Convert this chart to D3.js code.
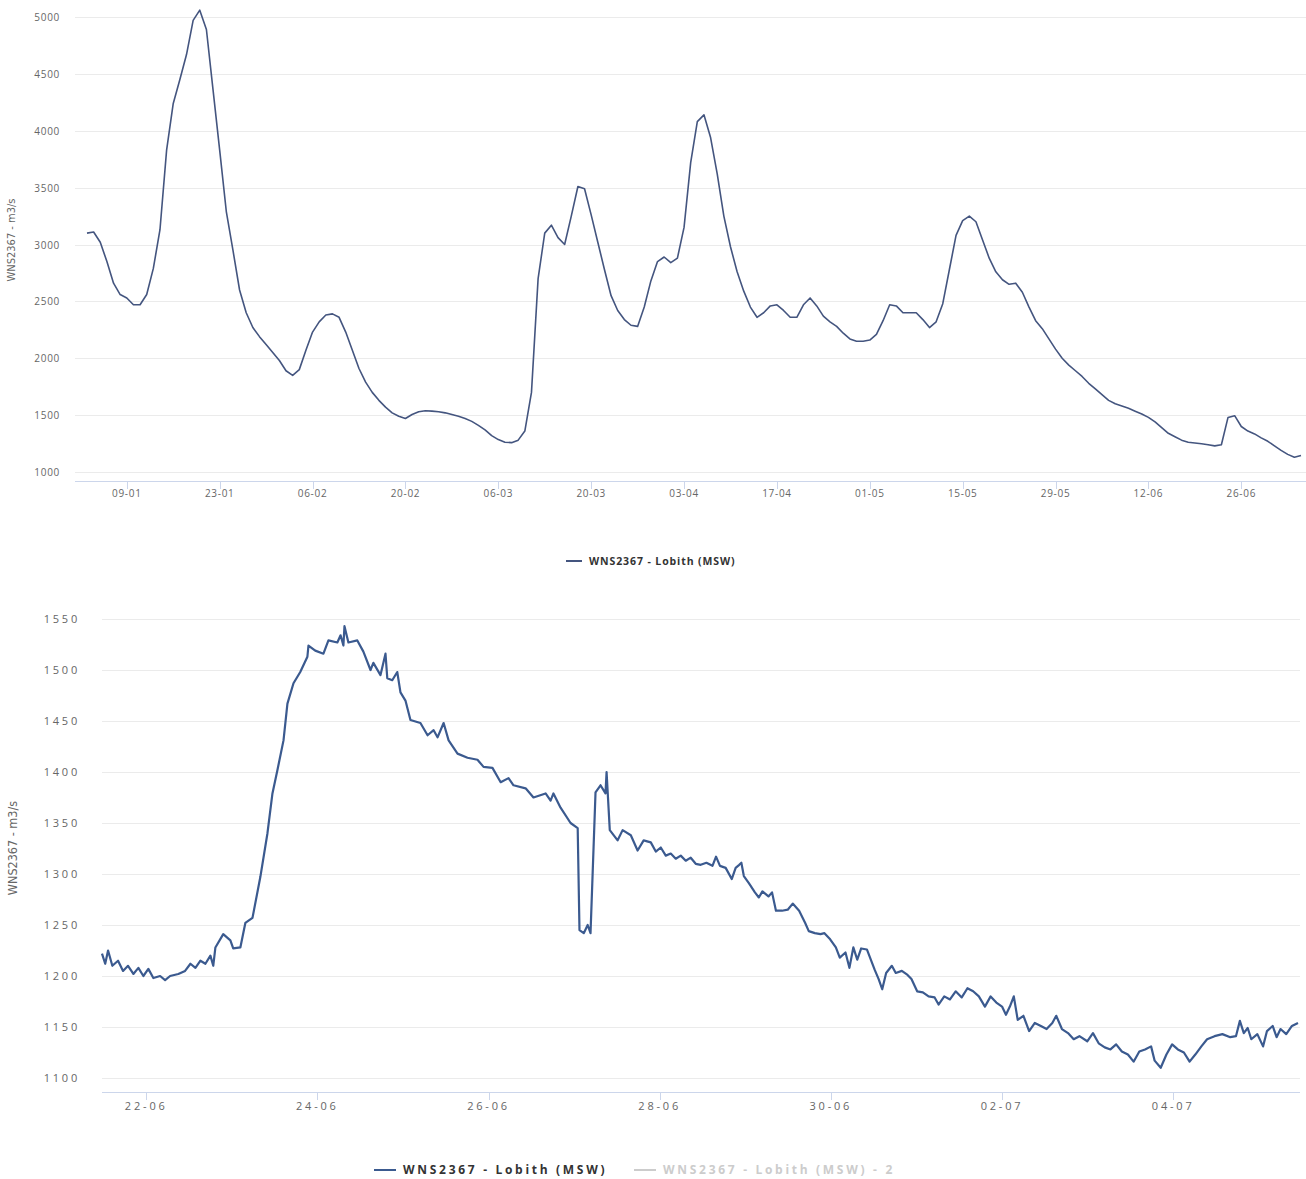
<!DOCTYPE html>
<html>
<head>
<meta charset="utf-8">
<script src="https://cdn.jsdelivr.net/npm/d3@7"></script>
<style>
body { margin: 0; background: #fff; }
svg { display: block; font-family: "Open Sans", "DejaVu Sans", sans-serif; }
.grid line { stroke: #ebebeb; stroke-width: 1; }
.axisline { stroke: #ccd6eb; stroke-width: 1; }
.tick-mark { stroke: #ccd6eb; stroke-width: 1; }
.lbl { fill: #666; }
.ytitle { fill: #666; font-family: "Liberation Sans Narrow", "DejaVu Sans Condensed", sans-serif; }
.legend { font-weight: bold; fill: #333; }
</style>
</head>
<body>
<svg id="chart" width="1306" height="1179"></svg>
<script>
// ---- top chart: daily discharge Lobith ----
var topStart = "2023-01-03";
var topValues = [
  3100, 3110, 3020, 2850, 2660, 2560, 2530, 2470, 2470, 2560,
  2790, 3130, 3830, 4240, 4450, 4670, 4970, 5060, 4890, 4360,
  3830, 3290, 2950, 2600, 2400, 2270, 2190, 2120, 2050, 1980,
  1890, 1850, 1900, 2070, 2230, 2320, 2380, 2390, 2360, 2230,
  2070, 1910, 1790, 1700, 1630, 1570, 1520, 1490, 1470, 1505,
  1530, 1538, 1535, 1530, 1520, 1505, 1490, 1470, 1445, 1410,
  1370, 1320, 1285, 1262, 1258, 1280, 1360, 1700, 2700, 3100,
  3170, 3060, 3000, 3250, 3510, 3490, 3260, 3020, 2780, 2550,
  2420, 2340, 2290, 2280, 2450, 2680, 2850, 2890, 2840, 2880,
  3150, 3720, 4080, 4140, 3940, 3620, 3250, 2980, 2760, 2590,
  2450, 2360, 2400, 2460, 2470, 2420, 2360, 2360, 2470, 2530,
  2460, 2370, 2320, 2280, 2220, 2170, 2150, 2150, 2160, 2210,
  2330, 2470, 2460, 2400, 2400, 2400, 2340, 2270, 2320, 2480,
  2780, 3080, 3210, 3250, 3200, 3040, 2880, 2760, 2690, 2650,
  2660, 2580, 2450, 2330, 2260, 2170, 2080, 2000, 1940, 1890,
  1840, 1780, 1730, 1680, 1630, 1600, 1580, 1560, 1535, 1510,
  1480, 1440, 1390, 1340, 1310, 1280, 1262, 1255, 1248, 1240,
  1230, 1240, 1480, 1495, 1400, 1360, 1335, 1300, 1270, 1230,
  1190, 1155, 1130, 1145
];
var topTicks = ["2023-01-09", "2023-01-23", "2023-02-06", "2023-02-20", "2023-03-06",
  "2023-03-20", "2023-04-03", "2023-04-17", "2023-05-01", "2023-05-15",
  "2023-05-29", "2023-06-12", "2023-06-26"];
var topYTicks = [1000, 1500, 2000, 2500, 3000, 3500, 4000, 4500, 5000];

// ---- bottom chart: discharge readings, hours after 21-06 00:00 ----
var bottomStart = "2023-06-21";
var bottomHours = [
  11.6, 12.5, 13.3, 14.5, 16.1, 17.5, 18.9, 20.4, 21.8, 23.2,
  24.6, 26.0, 27.9, 29.3, 30.7, 33.0, 34.9, 36.4, 37.8, 39.2,
  40.6, 42.0, 42.8, 43.4, 45.6, 47.6, 48.4, 50.4, 51.8, 53.8,
  56.0, 58.0, 59.4, 60.8, 62.5, 63.6, 65.3, 67.2, 69.2, 69.5,
  71.4, 73.7, 75.1, 77.6, 78.5, 79.3, 79.6, 80.7, 83.2, 84.9,
  86.9, 87.7, 89.7, 91.1, 91.6, 93.0, 94.4, 95.3, 96.7, 98.1,
  100.9, 102.9, 104.6, 105.7, 107.4, 108.8, 111.3, 114.1, 116.9, 118.6,
  121.1, 123.4, 125.6, 127.0, 130.4, 132.6, 136.0, 137.4, 138.2, 140.2,
  143.0, 145.0, 145.5, 146.7, 147.8, 148.6, 150.0, 151.4, 152.8, 153.1,
  154.0, 156.2, 157.6, 159.9, 161.8, 163.5, 165.5,
  166.9, 168.3, 169.7, 171.1, 172.5, 173.9, 175.3, 176.7, 178.1,
  179.5, 181.1, 182.8, 183.8, 184.9, 186.5, 188.2, 189.3, 190.3, 190.9,
  191.6, 193.0, 194.7, 195.8, 196.8, 198.5, 199.5, 200.6, 202.3, 203.9,
  205.3, 207.1, 208.8, 209.8, 211.5, 213.1, 214.2, 215.8, 217.4, 218.5,
  220.1, 221.2, 222.3, 223.4, 224.5, 226.1, 227.2, 228.3, 229.4, 230.4,
  231.5, 233.1, 234.2, 235.9, 237.5, 238.6, 240.2, 241.8, 243.4, 245.1,
  246.2, 247.8, 249.4, 251.0, 252.7, 254.3, 255.9, 257.5, 259.2, 260.8,
  262.4, 264.0, 265.1, 266.2, 267.3, 268.4, 270.0, 271.6, 273.2, 274.9,
  276.5, 278.1, 279.2, 280.8, 282.5, 284.1, 285.7, 287.9, 289.5, 291.1,
  292.8, 294.4, 296.0, 297.6, 299.3, 300.9, 302.5, 304.1, 305.8, 306.8,
  308.5, 310.1, 311.7, 313.3, 315.0, 316.6, 318.2, 319.9, 321.5, 323.6,
  325.8, 328.0, 329.6, 330.7, 331.8, 332.9, 333.9, 335.6, 337.2, 338.3,
  339.9, 341.0, 342.1, 343.7, 345.3, 347.0
];
var bottomValues = [
  1222, 1212, 1225, 1210, 1215, 1205, 1210, 1202, 1208, 1200,
  1207, 1198, 1200, 1196, 1200, 1202, 1205, 1212, 1208, 1215,
  1212, 1220, 1210, 1228, 1241, 1235, 1227, 1228, 1252, 1257,
  1297, 1340, 1379, 1402, 1431, 1467, 1487, 1498, 1513, 1524,
  1519, 1516, 1529, 1527, 1534, 1524, 1543, 1527, 1529, 1518,
  1500, 1507, 1495, 1516, 1492, 1490, 1498, 1478, 1470, 1451,
  1448, 1436, 1441, 1434, 1448, 1431, 1418, 1414, 1412, 1405,
  1404, 1390, 1394, 1387, 1384, 1375, 1379, 1372, 1379, 1365,
  1350, 1345, 1245, 1242, 1250, 1242, 1380, 1387, 1379, 1400,
  1343, 1333, 1343, 1338, 1323, 1333, 1331,
  1322, 1326, 1318, 1320, 1315, 1318, 1313, 1316, 1310,
  1309, 1311, 1308, 1317, 1308, 1306, 1295, 1306, 1309, 1311,
  1298, 1291, 1282, 1277, 1283, 1278, 1282, 1264, 1264, 1265,
  1271, 1264, 1252, 1244, 1242, 1241, 1242, 1236, 1228, 1218,
  1223, 1208, 1228, 1216, 1227, 1226, 1216, 1206, 1197, 1187,
  1203, 1210, 1203, 1205, 1201, 1197, 1185, 1184, 1180, 1179,
  1172, 1180, 1177, 1185, 1179, 1188, 1185, 1180, 1170, 1180,
  1174, 1170, 1162, 1170, 1180, 1157, 1161, 1146, 1154, 1151,
  1148, 1154, 1161, 1148, 1144, 1138, 1141, 1136, 1144, 1134,
  1130, 1128, 1133, 1126, 1123, 1116, 1126, 1128, 1131, 1117,
  1110, 1123, 1133, 1128, 1125, 1116, 1123, 1131, 1138, 1141,
  1143, 1140, 1141, 1156, 1144, 1149, 1138, 1143, 1131, 1146,
  1151, 1140, 1148, 1143, 1151, 1154
];
var bottomTicks = ["2023-06-22", "2023-06-24", "2023-06-26", "2023-06-28",
  "2023-06-30", "2023-07-02", "2023-07-04"];
var bottomYTicks = [1100, 1150, 1200, 1250, 1300, 1350, 1400, 1450, 1500, 1550];

var seriesName = "WNS2367 - Lobith (MSW)";
var axisTitle = "WNS2367 - m3/s";

var parseDay = d3.timeParse("%Y-%m-%d");
var fmt = d3.timeFormat("%d-%m");
var svg = d3.select("#chart");

function drawChart(cfg) {
  var g = svg.append("g");
  var x = d3.scaleTime().domain(d3.extent(cfg.data, d => d.t)).range([cfg.x0, cfg.x1]);
  var y = d3.scaleLinear().domain([cfg.yTicks[0], cfg.yTicks[cfg.yTicks.length - 1]]).range([cfg.yBot, cfg.yTop]);

  g.append("g").attr("class", "grid").selectAll("line").data(cfg.yTicks).enter().append("line")
    .attr("x1", cfg.gx0).attr("x2", cfg.gx1)
    .attr("y1", d => Math.round(y(d)) + 0.5).attr("y2", d => Math.round(y(d)) + 0.5);

  g.selectAll(".ylbl").data(cfg.yTicks).enter().append("text")
    .attr("class", "lbl")
    .attr("x", cfg.ylx).attr("y", d => y(d) + 4)
    .attr("text-anchor", "end")
    .style("font-size", cfg.fs + "px").style("letter-spacing", cfg.ls + "px")
    .text(d => d);

  g.append("line").attr("class", "axisline")
    .attr("x1", cfg.gx0).attr("x2", cfg.gx1)
    .attr("y1", cfg.axisY + 0.5).attr("y2", cfg.axisY + 0.5);

  var ticks = cfg.xTicks.map(parseDay);
  g.selectAll(".tm").data(ticks).enter().append("line").attr("class", "tick-mark")
    .attr("x1", d => Math.round(x(d)) + 0.5).attr("x2", d => Math.round(x(d)) + 0.5)
    .attr("y1", cfg.axisY).attr("y2", cfg.axisY + 8);
  g.selectAll(".xlbl").data(ticks).enter().append("text")
    .attr("class", "lbl")
    .attr("x", d => x(d)).attr("y", cfg.axisY + cfg.xly)
    .attr("text-anchor", "middle")
    .style("font-size", cfg.fs + "px").style("letter-spacing", cfg.ls + "px")
    .text(d => fmt(d));

  g.append("text").attr("class", "ytitle")
    .attr("transform", "translate(" + cfg.tx + "," + cfg.ty + ") rotate(-90)")
    .attr("text-anchor", "middle")
    .style("font-size", cfg.tfs + "px")
    .text(axisTitle);

  var line = d3.line().x(d => x(d.t)).y(d => y(d.v));
  g.append("path").datum(cfg.data)
    .attr("d", line)
    .attr("fill", "none")
    .attr("stroke", cfg.color)
    .attr("stroke-width", cfg.sw)
    .attr("stroke-linejoin", "round");

  // legend
  cfg.legend.forEach(function (it) {
    g.append("line").attr("x1", it.x).attr("x2", it.x + it.w)
      .attr("y1", cfg.legY).attr("y2", cfg.legY)
      .attr("stroke", it.color).attr("stroke-width", 2);
    g.append("text").attr("class", "legend")
      .attr("x", it.x + it.w + 7).attr("y", cfg.legY + 4)
      .style("font-size", cfg.lfs + "px").style("letter-spacing", cfg.lls + "px")
      .style("fill", it.text)
      .text(it.name);
  });
}

var t0 = parseDay(topStart);
var topData = topValues.map((v, i) => ({ t: d3.timeDay.offset(t0, i), v: v }));
drawChart({
  data: topData, yTicks: topYTicks, xTicks: topTicks,
  x0: 87, x1: 1301, gx0: 75, gx1: 1306, yTop: 17, yBot: 472, axisY: 481,
  ylx: 60, xly: 16, fs: 10, ls: 0.7, tx: 15, ty: 240, tfs: 11,
  color: "#44557f", sw: 1.6,
  legY: 561, lfs: 10.5, lls: 0.9,
  legend: [{ x: 566, w: 16, color: "#44557f", text: "#333", name: seriesName }]
});

var b0 = parseDay(bottomStart);
var bottomData = bottomHours.map((h, i) => ({ t: new Date(b0.getTime() + h * 3600000), v: bottomValues[i] }));
drawChart({
  data: bottomData, yTicks: bottomYTicks, xTicks: bottomTicks,
  x0: 102, x1: 1298, gx0: 102, gx1: 1300, yTop: 619, yBot: 1078, axisY: 1092,
  ylx: 80, xly: 18, fs: 11, ls: 2.8, tx: 17, ty: 848, tfs: 12.5,
  color: "#3b5a8f", sw: 2.2,
  legY: 1170, lfs: 12, lls: 2.7,
  legend: [
    { x: 374, w: 22, color: "#3b5a8f", text: "#333", name: seriesName },
    { x: 634, w: 22, color: "#cccccc", text: "#cccccc", name: seriesName + " - 2" }
  ]
});
</script>
</body>
</html>
